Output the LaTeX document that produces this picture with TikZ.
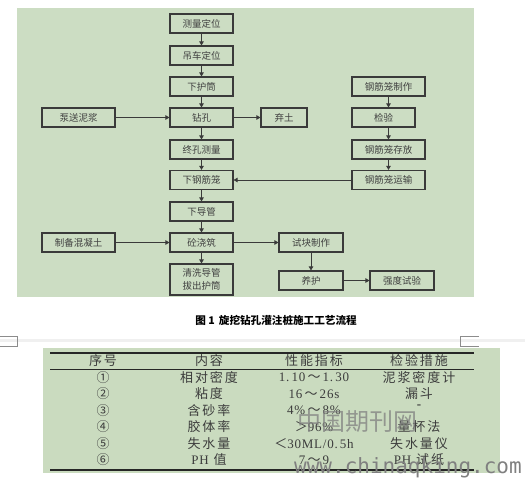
\documentclass[tikz,border=0pt]{standalone}
\usepackage{fontspec}
\usetikzlibrary{arrows.meta}
\newfontfamily\cjk{Noto Sans CJK SC}
\newfontfamily\tcjk[LetterSpace=15]{Noto Sans CJK SC}
\newfontfamily\tlat[LetterSpace=6]{Liberation Serif}
\newfontfamily\wmono{DejaVu Sans Mono}
\definecolor{bg}{HTML}{CCDDC3}
\definecolor{tbg}{HTML}{CADBBF}
\definecolor{boxc}{HTML}{3A3A3A}
\definecolor{txtc}{HTML}{404040}
\definecolor{tabc}{HTML}{3C3C3C}
\definecolor{wmc}{HTML}{808080}
\begin{document}
\begin{tikzpicture}[x=1pt,y=-1pt,
  box/.style={draw=boxc, line width=1.1pt, inner sep=0pt, minimum height=19pt, text=txtc, font=\cjk\fontsize{9.5}{12.5}\selectfont, align=center},
  arr/.style={draw=boxc, line width=0.8pt, -{Triangle[length=4pt,width=4.5pt]}},
  tc/.style={inner sep=0pt, text=tabc, font=\tcjk\fontsize{13}{13}\selectfont},
  tl/.style={inner sep=0pt, text=tabc, font=\tlat\fontsize{13}{13}\selectfont},
  rule/.style={draw=black!85}]
\useasboundingbox (0,0) rectangle (525,480);
\fill[white] (0,0) rectangle (525,480);
% flowchart background
\fill[bg] (17,8) rectangle (474,297);
% main column
\node[box, minimum width=63pt] (a) at (201.5,23.5) {测量定位};
\node[box, minimum width=63pt] (b) at (201.5,55.5) {吊车定位};
\node[box, minimum width=63pt] (c) at (201.5,86.5) {下护筒};
\node[box, minimum width=63pt] (d) at (201.5,117.5) {钻孔};
\node[box, minimum width=63pt] (e) at (201.5,149.5) {终孔测量};
\node[box, minimum width=63pt] (f) at (201.5,180) {下钢筋笼};
\node[box, minimum width=63pt] (g) at (201.5,211.5) {下导管};
\node[box, minimum width=63pt] (h) at (201.5,242.5) {砼浇筑};
\node[box, minimum width=63pt, minimum height=31pt] (i) at (201.5,279.5) {清洗导管\\拔出护筒};
% left
\node[box, minimum width=73pt] (p) at (78.5,117.5) {泵送泥浆};
\node[box, minimum width=73pt] (q) at (78.5,242.5) {制备混凝土};
% right of drilling
\node[box, minimum width=46pt] (s) at (284,117.5) {弃土};
% right column
\node[box, minimum width=73pt] (r1) at (388.5,86.5) {钢筋笼制作};
\node[box, minimum width=63pt] (r2) at (383.5,117.5) {检验};
\node[box, minimum width=73pt] (r3) at (388.5,149.5) {钢筋笼存放};
\node[box, minimum width=73pt] (r4) at (388.5,180) {钢筋笼运输};
% test blocks
\node[box, minimum width=64pt] (k1) at (311,242.5) {试块制作};
\node[box, minimum width=64pt] (k2) at (311,280.5) {养护};
\node[box, minimum width=64pt] (k3) at (402,280.5) {强度试验};
% arrows
\draw[arr] (a) -- (b);
\draw[arr] (b) -- (c);
\draw[arr] (c) -- (d);
\draw[arr] (d) -- (e);
\draw[arr] (e) -- (f);
\draw[arr] (f) -- (g);
\draw[arr] (g) -- (h);
\draw[arr] (h) -- (i);
\draw[arr] (p) -- (d);
\draw[arr] (d) -- (s);
\draw[arr] (q) -- (h);
\draw[arr] (h) -- (k1);
\draw[arr] (r1.south) -- (r1.south |- r2.north);
\draw[arr] (r1.south |- r2.south) -- (r1.south |- r3.north);
\draw[arr] (r3) -- (r4);
\draw[arr] (r4) -- (f);
\draw[arr] (k1) -- (k2);
\draw[arr] (k2) -- (k3);
% caption
\node[inner sep=0pt, font=\cjk\bfseries\fontsize{10.6}{10.6}\selectfont] (cap) at (276,320) {图 1\, 旋挖钻孔灌注桩施工工艺流程};
% page marks
\fill[black!6] (0,339) rectangle (525,342);
\draw[black!45, line width=0.6pt] (0,336) -- (17,336) -- (17,346) -- (0,346);
\draw[black!45, line width=0.6pt] (479,336) -- (460,336) -- (460,346) -- (479,346);
% table
\fill[tbg] (43,348) rectangle (500,473);
\draw[rule, line width=1.6pt] (50,353) -- (474,353);
\draw[rule, line width=0.9pt] (50,369) -- (474,369);
\draw[rule, line width=2pt] (50,470) -- (474,470);
\node[tc] (h1) at (103,361) {序号};
\node[tc] (h2) at (209,361) {内容};
\node[tc] (h3) at (314,361) {性能指标};
\node[tc] (h4) at (419,361) {检验措施};
% rows
\node[tc] (n1) at (103,377.5) {①};
\node[tc] (n2) at (103,394) {②};
\node[tc] (n3) at (103,410.5) {③};
\node[tc] (n4) at (103,427) {④};
\node[tc] (n5) at (103,444) {⑤};
\node[tc] (n6) at (103,460) {⑥};
\node[tc] (c1) at (209,377.5) {相对密度};
\node[tc] (c2) at (209,394) {粘度};
\node[tc] (c3) at (209,410.5) {含砂率};
\node[tc] (c4) at (209,427) {胶体率};
\node[tc] (c5) at (209,444) {失水量};
\node[tc] (c6) at (209,460) {{\tlat PH} 值};
\node[tl] (v1) at (314,377.5) {1.\,10{\cjk\,～\,}1.\,30};
\node[tl] (v2) at (314,394) {16{\cjk\,～\,}26s};
\node[tl] (v3) at (314,410) {4\%{\cjk\,～\,}8\%};
\node[tl] (v4) at (314,427) {{\cjk ＞}96\%};
\node[tl] (v5) at (314,444) {{\cjk ＜}30ML/0.\,5h};
\node[tl] (v6) at (314,460) {7{\cjk\,～\,}9};
\node[tc] (m1) at (419,377.5) {泥浆密度计};
\node[tc] (m2) at (419,394) {漏斗};
\node[tl, font=\tlat\bfseries\fontsize{13}{13}\selectfont] (m3) at (419,407) {-};
\node[tc] (m4) at (419,427) {量杯法};
\node[tc] (m5) at (419,444) {失水量仪};
\node[tc] (m6) at (419,460) {{\tlat PH} 试纸};
% watermark
\node[inner sep=0pt, text=wmc, opacity=0.75, font=\cjk\fontsize{24}{24}\selectfont] (wm1) at (357,421) {中国期刊网};
\node[inner sep=0pt, text=wmc, font=\wmono\fontsize{21}{21}\selectfont] (wm2) at (408,468) {www.chinaqking.com};
\end{tikzpicture}
\end{document}
